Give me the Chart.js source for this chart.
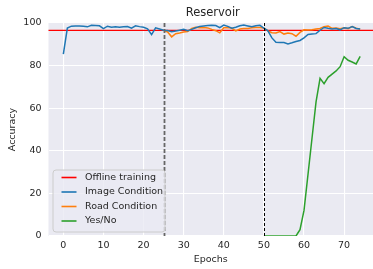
<!DOCTYPE html>
<html>
<head>
<meta charset="utf-8">
<script src="https://cdn.jsdelivr.net/npm/chart.js@4"></script>
<style>
  html, body { margin: 0; padding: 0; background: #fff; }
  canvas { display: block; }
</style>
</head>
<body>
<canvas id="reservoir-chart" width="373" height="269"></canvas>
<script>
// data
const offlineAcc = 96.5;
const phaseStarts = [25, 50];

const imageStart = 0;
const imageAcc = [
  85.4, 97.6, 98.5, 98.6, 98.6, 98.5, 98.2, 98.9, 98.8, 98.7,
  97.4, 98.5, 98.0, 98.2, 98.0, 98.2, 98.3, 97.6, 98.7, 98.3,
  98.0, 97.3, 94.5, 97.7, 97.2, 96.6, 96.5, 95.9, 96.2, 96.6,
  97.0, 96.4, 97.0, 97.8, 98.4, 98.6, 98.8, 98.9, 98.8, 97.8,
  99.0, 98.4, 97.6, 98.0, 98.7, 99.0, 98.6, 98.2, 98.7, 98.9,
  97.6, 96.3, 93.0, 91.0, 90.9, 90.8, 90.2, 90.7, 91.3, 91.8,
  93.0, 94.6, 94.8, 95.0, 96.6, 97.9, 97.5, 97.2, 97.4, 96.8,
  97.8, 97.5, 98.3, 97.4, 97.2
];

const roadStart = 25;
const roadAcc = [
  96.6, 95.8, 93.5, 95.0, 95.3, 95.8, 96.0, 97.4, 98.0, 97.8,
  97.9, 97.7, 97.0, 96.4, 95.4, 97.8, 97.9, 97.5, 96.3, 97.2,
  97.4, 97.4, 97.8, 97.9, 97.9, 97.6, 96.3, 95.4, 95.3, 96.0,
  94.8, 95.3, 95.0, 93.8, 95.6, 96.8, 96.7, 96.8, 97.2, 97.4,
  98.3, 98.6, 97.5, 97.7, 97.3, 97.8, 97.3, 98.3, 97.6, 97.1
];

const yesNoStart = 50;
const yesNoAcc = [
  0, 0, 0, 0, 0, 0, 0, 0, 0, 3,
  12, 29, 46, 63, 74, 71.5, 74.5, 76, 77.5, 79.5,
  84.2, 82.5, 81.7, 80.8, 84.3
];

const xTicks = [0, 10, 20, 30, 40, 50, 60, 70];
const yTicks = [0, 20, 40, 60, 80, 100];

const textColor = '#262626';
const font = 'DejaVu Sans';

function toPoints(values, start) {
  return values.map((v, i) => ({ x: start + i, y: v }));
}

const series = [
  { label: 'Image Condition', color: '#1f77b4', data: toPoints(imageAcc, imageStart) },
  { label: 'Road Condition', color: '#ff7f0e', data: toPoints(roadAcc, roadStart) },
  { label: 'Yes/No', color: '#2ca02c', data: toPoints(yesNoAcc, yesNoStart) }
];

// grey plot background (seaborn darkgrid look)
const backgroundPlugin = {
  id: 'bg',
  beforeDraw(chart) {
    const { ctx, chartArea: a } = chart;
    ctx.save();
    ctx.fillStyle = '#eaeaf2';
    ctx.fillRect(a.left, a.top, a.right - a.left, a.bottom - a.top);
    ctx.restore();
  }
};

const refLinesPlugin = {
  id: 'refLines',
  beforeDatasetsDraw(chart) {
    const { ctx, chartArea: a, scales } = chart;
    const y = scales.y.getPixelForValue(offlineAcc);
    ctx.save();
    ctx.strokeStyle = '#ff0000';
    ctx.lineWidth = 1.3;
    ctx.beginPath();
    ctx.moveTo(a.left, y);
    ctx.lineTo(a.right, y);
    ctx.stroke();
    ctx.restore();
  },
  afterDatasetsDraw(chart) {
    const { ctx, chartArea: a, scales } = chart;
    ctx.save();
    phaseStarts.forEach((p, i) => {
      const x = Math.round(scales.x.getPixelForValue(p)) + 0.5;
      ctx.strokeStyle = i === 0 ? '#666666' : '#000000';
      ctx.lineWidth = i === 0 ? 1.8 : 1;
      ctx.setLineDash(i === 0 ? [4, 2] : [3, 2]);
      ctx.beginPath();
      ctx.moveTo(x, a.top);
      ctx.lineTo(x, a.bottom);
      ctx.stroke();
    });
    ctx.restore();
  }
};

const titleLegendPlugin = {
  id: 'titleLegend',
  afterDraw(chart) {
    const { ctx, chartArea: a } = chart;
    ctx.save();
    // title
    ctx.fillStyle = textColor;
    ctx.font = '11.5px "' + font + '"';
    ctx.textAlign = 'center';
    ctx.textBaseline = 'middle';
    ctx.fillText('Reservoir', (a.left + a.right) / 2 + 2, 13);

    // legend
    const entries = [{ label: 'Offline training', color: '#ff0000' }]
      .concat(series.map(s => ({ label: s.label, color: s.color })));
    const bx = a.left + 4.5, bw = 112, bh = 62;
    const by = a.bottom - 4 - bh;
    ctx.beginPath();
    ctx.roundRect(bx, by, bw, bh, 3);
    ctx.fillStyle = 'rgba(234,234,242,0.8)';
    ctx.fill();
    ctx.strokeStyle = '#cccccc';
    ctx.lineWidth = 1;
    ctx.stroke();

    ctx.font = '9.5px "' + font + '"';
    ctx.textAlign = 'left';
    entries.forEach((e, i) => {
      const ry = by + 7.5 + i * 14.5;
      ctx.strokeStyle = e.color;
      ctx.lineWidth = 1.6;
      ctx.beginPath();
      ctx.moveTo(bx + 8.5, ry);
      ctx.lineTo(bx + 23.5, ry);
      ctx.stroke();
      ctx.fillStyle = textColor;
      ctx.fillText(e.label, bx + 32, ry);
    });
    ctx.restore();
  }
};

new Chart(document.getElementById('reservoir-chart').getContext('2d'), {
  type: 'line',
  data: {
    datasets: series.map(s => ({
      label: s.label,
      data: s.data,
      borderColor: s.color,
      backgroundColor: s.color,
      borderWidth: 1.5,
      pointRadius: 0,
      tension: 0,
      clip: 0
    }))
  },
  options: {
    responsive: false,
    devicePixelRatio: 1,
    animation: false,
    layout: { padding: { top: 23, left: 0, right: 0, bottom: 0 } },
    plugins: {
      legend: { display: false },
      title: { display: false },
      tooltip: { enabled: false }
    },
    scales: {
      x: {
        type: 'linear',
        min: -3.7,
        max: 77.2,
        afterBuildTicks: s => { s.ticks = xTicks.map(v => ({ value: v })); },
        afterFit: s => { s.height = 33; },
        grid: { color: '#ffffff', lineWidth: 1.1, drawTicks: false },
        border: { display: false },
        ticks: { color: textColor, font: { family: font, size: 9.5 }, padding: 4, maxRotation: 0 },
        title: { display: true, text: 'Epochs', color: textColor, font: { family: font, size: 9.5 }, padding: { top: 0, bottom: 4 } }
      },
      y: {
        min: 0,
        max: 100,
        afterBuildTicks: s => { s.ticks = yTicks.map(v => ({ value: v })); },
        afterFit: s => { s.width = 48.5; },
        grid: { color: '#ffffff', lineWidth: 1.1, drawTicks: false },
        border: { display: false },
        ticks: { color: textColor, font: { family: font, size: 9.5 }, padding: 7 },
        title: { display: true, text: 'Accuracy', color: textColor, font: { family: font, size: 9.5 }, padding: { top: 7, bottom: 0 } }
      }
    }
  },
  plugins: [backgroundPlugin, refLinesPlugin, titleLegendPlugin]
});
</script>
</body>
</html>
